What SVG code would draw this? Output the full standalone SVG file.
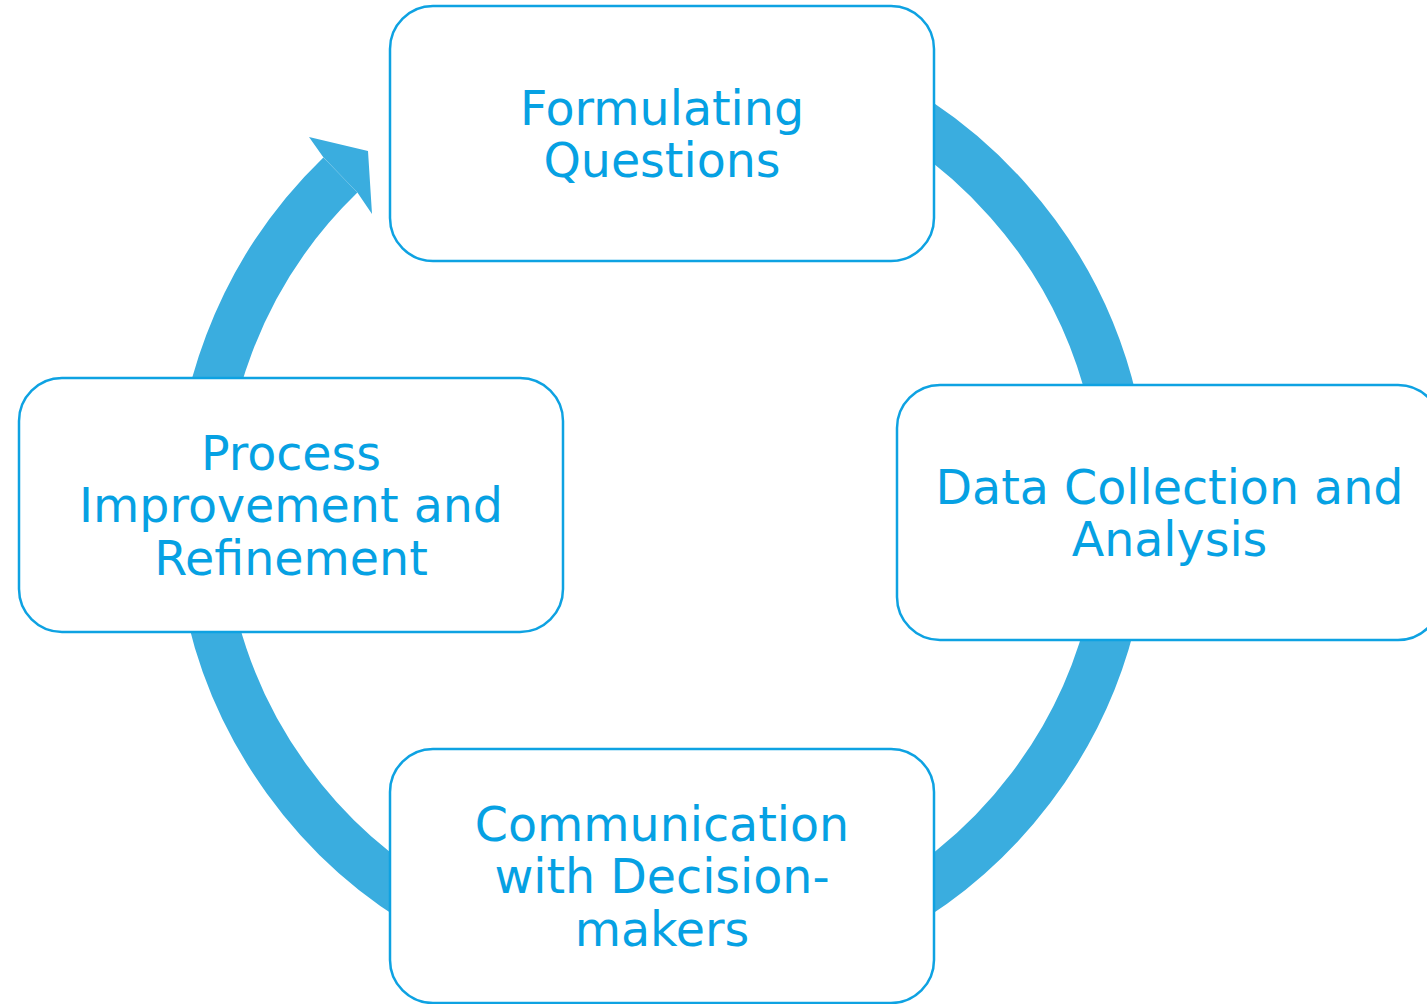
<svg xmlns="http://www.w3.org/2000/svg" width="1427" height="1004" viewBox="0 0 1427 1004">
  <style>
    .box { fill: #ffffff; stroke: #0ea2e2; stroke-width: 2.5; }
    .lbl { font-family: "DejaVu Sans", Verdana, sans-serif; font-size: 47.5px; fill: #06a1e3; text-anchor: middle; }
    .ring { fill: none; stroke: #3aaddf; stroke-width: 49; }
    .head { fill: #3aaddf; }
  </style>
  <g id="connectors">
    <path class="ring" d="M 621.6 46.8 A 463 463 0 1 1 340.4 175.0"/>
    <polygon class="head" points="323.3,157.3 309,137 368,151 372,214 357.4,192.6"/>
  </g>
  <g id="node-formulating">
    <rect class="box" x="390" y="6" width="544" height="255" rx="43"/>
    <text class="lbl" x="662" y="124.5">Formulating</text>
    <text class="lbl" x="662" y="177">Questions</text>
  </g>
  <g id="node-data">
    <rect class="box" x="897" y="385" width="544" height="255" rx="43"/>
    <text class="lbl" x="1169.5" y="503.5">Data Collection and</text>
    <text class="lbl" x="1169.5" y="556">Analysis</text>
  </g>
  <g id="node-communication">
    <rect class="box" x="390" y="749" width="544" height="254" rx="43"/>
    <text class="lbl" x="662" y="840.5">Communication</text>
    <text class="lbl" x="662" y="893">with Decision-</text>
    <text class="lbl" x="662" y="945.5">makers</text>
  </g>
  <g id="node-process">
    <rect class="box" x="19" y="378" width="544" height="254" rx="43"/>
    <text class="lbl" x="291" y="469.5">Process</text>
    <text class="lbl" x="291" y="522">Improvement and</text>
    <text class="lbl" x="291" y="574.5">Refinement</text>
  </g>
</svg>
